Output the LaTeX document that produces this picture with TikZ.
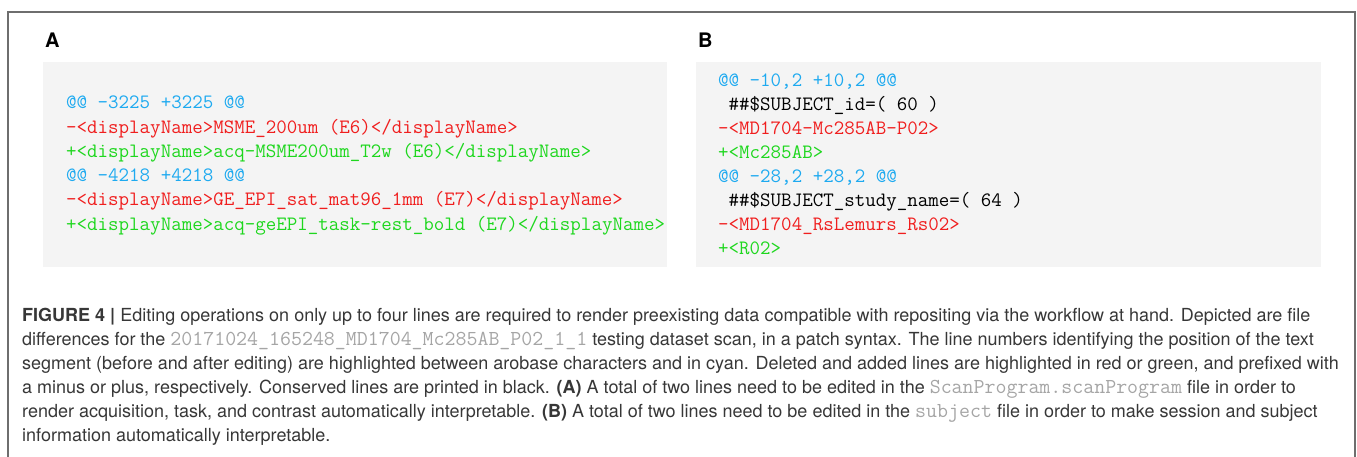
\documentclass[tikz,border=0pt]{standalone}
\usepackage{fontspec}
\newfontfamily\capfont{TeX Gyre Heros}
\usepackage{tikz}
\definecolor{hunkcyan}{RGB}{30,170,240}
\definecolor{delred}{RGB}{240,30,30}
\definecolor{addgreen}{RGB}{30,215,30}
\definecolor{boxgray}{RGB}{244,244,244}
\definecolor{framegray}{RGB}{110,110,110}
\definecolor{captext}{RGB}{55,55,55}
\definecolor{capmono}{RGB}{165,165,165}
\newcommand{\capcode}[1]{{\color{capmono}\ttfamily\fontsize{21.3}{24}\selectfont #1}}
\tikzset{
    codeline/.style={anchor=base west, inner sep=0pt, font=\ttfamily\fontsize{20.4}{24}\selectfont},
    hunkline/.style={codeline, text=hunkcyan},
    delline/.style={codeline, text=delred},
    addline/.style={codeline, text=addgreen},
    keepline/.style={codeline, text=black},
    panel label/.style={anchor=base west, inner sep=0pt, font=\capfont\bfseries\fontsize{20}{24}\selectfont},
    capline/.style={anchor=base west, inner sep=0pt, text=captext, font=\capfont\fontsize{18}{24}\selectfont},
}

\begin{document}
\begin{tikzpicture}[x=1pt,y=-1pt]
\useasboundingbox (0,0) rectangle (1357,457);
\draw[framegray, line width = 1.5pt] (8,457)--(8,12)--(1355,12)--(1355,457);
% panel A
\node[panel label] (labA) at (45,48) {A};
\fill[boxgray] (42.5,62) rectangle (666.5,267);
\node[hunkline] (a1) at (66,109) {@@ -3225 +3225 @@};
\node[delline] (a2) at (66,133.2) {-<displayName>MSME\_200um (E6)</displayName>};
\node[addline] (a3) at (66,157.4) {+<displayName>acq-MSME200um\_T2w (E6)</displayName>};
\node[hunkline] (a4) at (66,181.6) {@@ -4218 +4218 @@};
\node[delline] (a5) at (66,205.8) {-<displayName>GE\_EPI\_sat\_mat96\_1mm (E7)</displayName>};
\node[addline] (a6) at (66,230) {+<displayName>acq-geEPI\_task-rest\_bold (E7)</displayName>};
% panel B
\node[panel label] (labB) at (698,48) {B};
\fill[boxgray] (696,62) rectangle (1320.5,267);
\node[hunkline] (b1) at (718,87) {@@ -10,2 +10,2 @@};
\node[keepline] (b2) at (718,110.9) {\ \#\#\$SUBJECT\_id=( 60 )};
\node[delline] (b3) at (718,134.8) {-<MD1704-Mc285AB-P02>};
\node[addline] (b4) at (718,158.7) {+<Mc285AB>};
\node[hunkline] (b5) at (718,182.6) {@@ -28,2 +28,2 @@};
\node[keepline] (b6) at (718,206.5) {\ \#\#\$SUBJECT\_study\_name=( 64 )};
\node[delline] (b7) at (718,230.4) {-<MD1704\_RsLemurs\_Rs02>};
\node[addline] (b8) at (718,254.3) {+<R02>};
% caption
\node[capline] (cap1) at (22,321) {\textbf{FIGURE 4 |} Editing operations on only up to four lines are required to render preexisting data compatible with repositing via the workflow at hand. Depicted are file};
\node[capline] (cap2) at (22,345) {differences for the \capcode{20171024\_165248\_MD1704\_Mc285AB\_P02\_1\_1} testing dataset scan, in a patch syntax. The line numbers identifying the position of the text};
\node[capline] (cap3) at (22,369) {segment (before and after editing) are highlighted between arobase characters and in cyan. Deleted and added lines are highlighted in red or green, and prefixed with};
\node[capline] (cap4) at (22,393) {a minus or plus, respectively. Conserved lines are printed in black. \textbf{(A)} A total of two lines need to be edited in the \capcode{ScanProgram.scanProgram} file in order to};
\node[capline] (cap5) at (22,417) {render acquisition, task, and contrast automatically interpretable. \textbf{(B)} A total of two lines need to be edited in the \capcode{subject} file in order to make session and subject};
\node[capline] (cap6) at (22,441) {information automatically interpretable.};
\end{tikzpicture}
\end{document}
